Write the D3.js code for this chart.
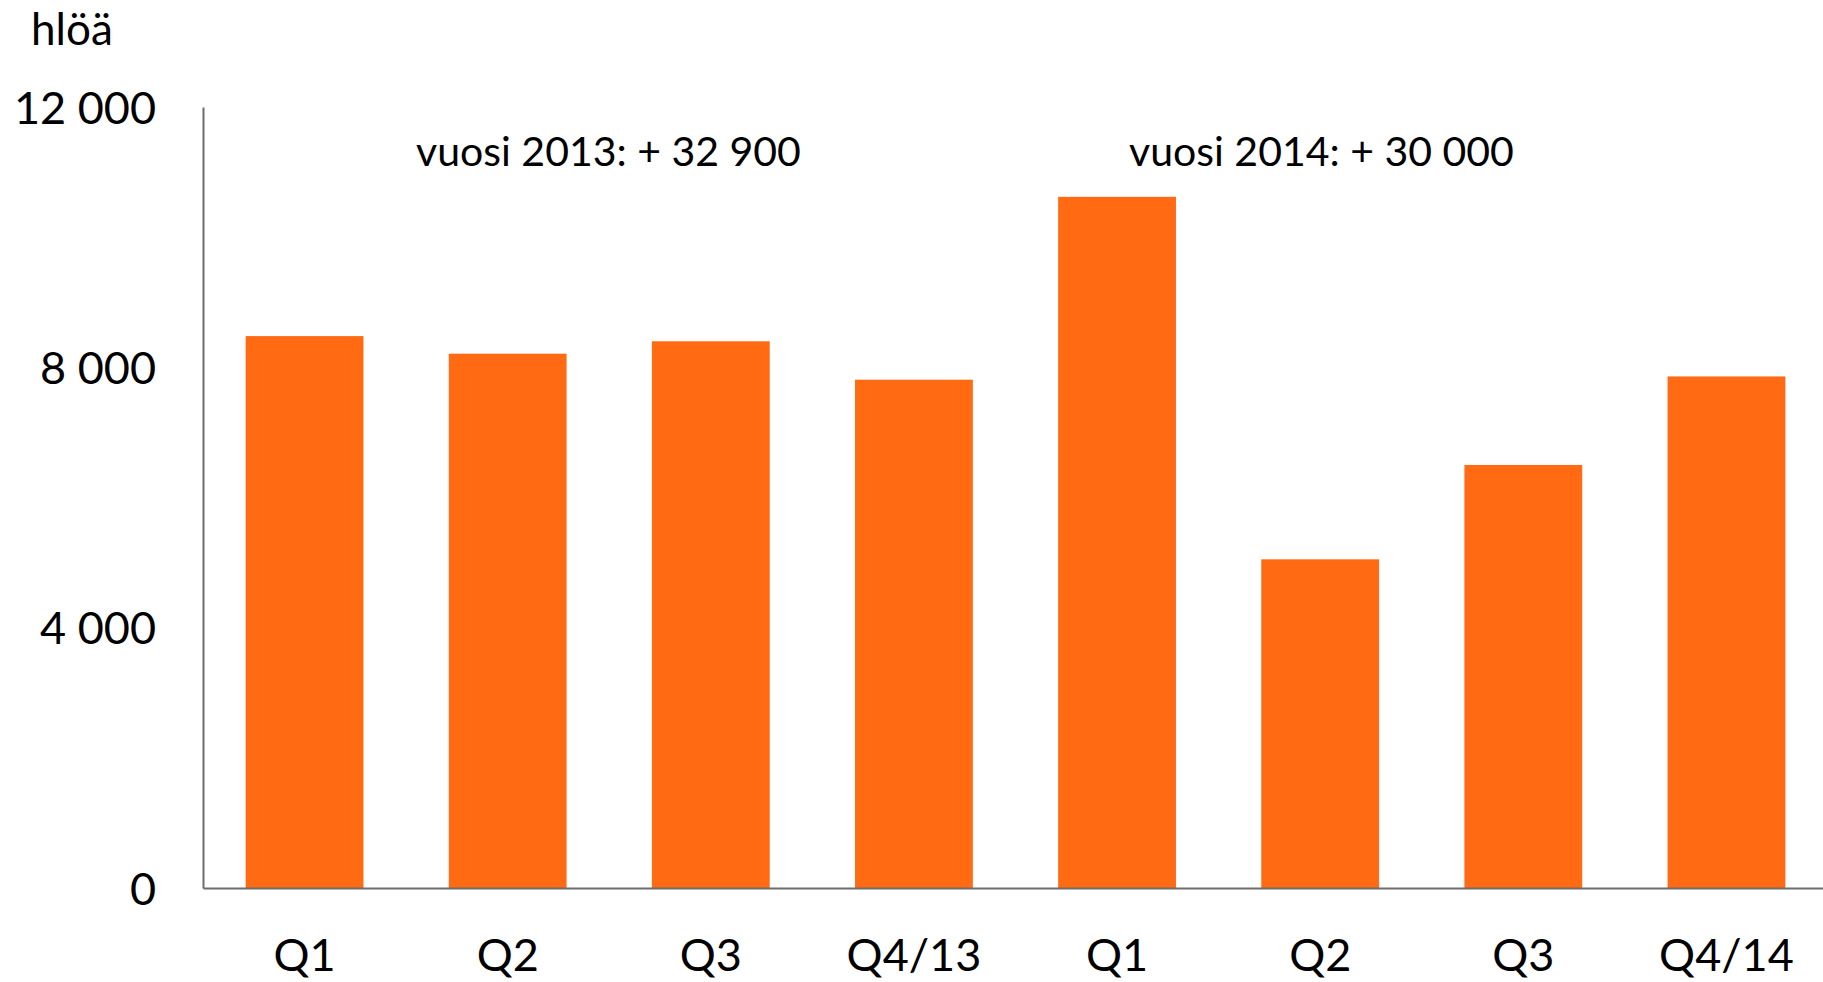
<!DOCTYPE html>
<html>
<head>
<meta charset="utf-8">
<script src="https://cdn.jsdelivr.net/npm/d3@7"></script>
<style>
  html, body { margin: 0; padding: 0; background: #fff; }
  svg text { font-family: Lato, "Open Sans", sans-serif; fill: #000; }
</style>
</head>
<body>
<div id="chart"></div>
<script>
const categories = ['Q1', 'Q2', 'Q3', 'Q4/13', 'Q1', 'Q2', 'Q3', 'Q4/14'];
const values = [8480, 8210, 8400, 7810, 10620, 5050, 6500, 7860];
const yTicks = [0, 4000, 8000, 12000];
const notes = ['vuosi 2013: + 32 900', 'vuosi 2014: + 30 000'];
const unitLabel = 'hlöä';

const width = 1823, height = 982;
const x0 = 203, x1 = 1828, yTop = 107, yBase = 888;

const svg = d3.select('#chart').append('svg').attr('width', width).attr('height', height);

// band scale over the category index, labels come from categories
const x = d3.scaleBand().domain(d3.range(categories.length)).range([x0, x1])
  .paddingInner(0.42).paddingOuter(0.21);
const y = d3.scaleLinear().domain([0, 12000]).range([yBase, yTop]);

const fmt = v => d3.format(',')(v).replace(/,/g, ' ');

// bars
svg.selectAll('.bar').data(values).enter().append('rect')
  .attr('class', 'bar')
  .attr('x', (d, i) => x(i)).attr('width', x.bandwidth())
  .attr('y', d => y(d)).attr('height', d => yBase - y(d))
  .attr('fill', '#ff6a13');

// y axis
const yAxis = svg.append('g').attr('transform', `translate(${x0},0)`)
  .call(d3.axisLeft(y).tickValues(yTicks).tickFormat(fmt).tickSize(0).tickPadding(47));
yAxis.select('.domain').attr('stroke', '#6d6d6d').attr('stroke-width', 2);
yAxis.selectAll('text').attr('font-size', 45).attr('dy', '0.36em')
  .style('font-family', 'Lato, "Open Sans", sans-serif');

// x axis
const xAxis = svg.append('g').attr('transform', `translate(0,${yBase})`)
  .call(d3.axisBottom(x).tickFormat(i => categories[i]).tickSize(0).tickPadding(51));
xAxis.select('.domain').attr('stroke', '#6d6d6d').attr('stroke-width', 2);
xAxis.selectAll('text').attr('font-size', 45).attr('dy', '0.71em')
  .style('font-family', 'Lato, "Open Sans", sans-serif');

// unit label
svg.append('text').attr('x', 31).attr('y', 45).attr('font-size', 44).text(unitLabel);

// yearly notes
const noteX = [416, 1129];
svg.selectAll('.note').data(notes).enter().append('text')
  .attr('class', 'note')
  .attr('x', (d, i) => noteX[i]).attr('y', 166)
  .attr('font-size', 41).text(d => d);
</script>
</body>
</html>
